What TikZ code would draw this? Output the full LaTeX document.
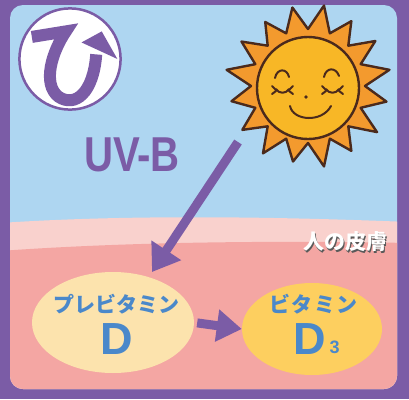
\documentclass[tikz,border=0pt]{standalone}
\usepackage{fontspec}
\setmainfont{Liberation Sans}
\newfontfamily\cjk{Noto Sans CJK JP}
\usepackage{tikz}
\usetikzlibrary{arrows.meta,positioning,shapes.geometric,calc}
\definecolor{Frame}{HTML}{7B5CA6}
\definecolor{Sky}{HTML}{AED6F1}
\definecolor{SkinTop}{HTML}{F9D1CD}
\definecolor{Skin}{HTML}{F4A6A3}
\definecolor{PaleYolk}{HTML}{FCE3AD}
\definecolor{Yolk}{HTML}{FDCF5F}
\definecolor{VitBlue}{HTML}{4A88CA}
\definecolor{Ray}{HTML}{F39A2E}
\definecolor{Face}{HTML}{F8B726}
\definecolor{Brown}{HTML}{4B2A1C}

\begin{document}
\begin{tikzpicture}[x=1pt,y=-1pt,line join=round,
  sunline/.style={draw=Brown,line width=2.4pt},
  faceline/.style={draw=Brown,line width=2pt,line cap=round},
  kata/.style={font=\cjk\bfseries\fontsize{21}{21}\selectfont,text=VitBlue},
  bigd/.style={font=\bfseries\fontsize{45}{45}\selectfont,text=VitBlue},
  blob/.style={ellipse,draw=none,inner sep=0pt},
  uvarrow/.style={draw=Frame,line width=9pt,-{Triangle[length=26pt,width=34pt]}}]
  \useasboundingbox (0,0) rectangle (409,399);
  \fill[Frame] (0,0) rectangle (409,399);

  % sky and skin layers
  \begin{scope}
    \clip[rounded corners=13pt] (10,5) rectangle (397,389);
    \fill[Sky] (0,0) rectangle (409,399);
    \fill[SkinTop] (0,223) .. controls (120,215) and (260,216) .. (409,222) -- (409,399) -- (0,399) -- cycle;
    \fill[Skin] (0,251) .. controls (110,243) and (250,240) .. (409,243) -- (409,399) -- (0,399) -- cycle;
  \end{scope}

  % hi mark
  \begin{scope}[shift={(70,59)},scale=0.92,shift={(-74.5,-63)}]
    \draw[Frame,line width=2.5pt,fill=white] (74.5,63) circle[radius=55];
    \draw[Frame,line width=12pt,line join=miter] (33,39) -- (70,33)
      .. controls (55,55) and (44,90) .. (62,104) .. controls (80,116) and (100,100) .. (103,58);
    \fill[Frame] (109,33) -- (87,45) -- (126,63) -- cycle;
  \end{scope}
  \node[font=\bfseries\fontsize{49}{49}\selectfont,text=Frame] (uvb) at (132,155) {\scalebox{0.82}[1]{UV-B}};

  % sun
  \coordinate (sun) at (308,86);
  \draw[sunline,fill=Ray] ($(sun)+(11.25:80)$)
    \foreach \r [count=\k] in {83,78,82,77,81,79,78,83,80,77,80,82,78,81,83,80}
      { -- ($(sun)+({\k*22.5}:57)$) -- ($(sun)+({\k*22.5+11.25}:\r)$) } -- cycle;
  \draw[sunline,fill=Face] (308,88) circle[radius=51];
  \draw[faceline] (275,78) .. controls (277,68) and (287,68) .. (289,77);
  \draw[faceline] (324,77) .. controls (326,67) and (336,67) .. (339,76);
  \draw[faceline] (276,89) .. controls (279,94) and (286,94) .. (289,89)
    (276,90) -- (272,86) (276,91) -- (272,94) (289,90) -- (293,86) (289,91) -- (293,94);
  \draw[faceline] (326,89) .. controls (329,94) and (336,94) .. (339,89)
    (326,90) -- (322,86) (326,91) -- (322,94) (339,90) -- (343,86) (339,91) -- (343,94);
  \fill[Brown] (306,97) circle[radius=1.9];
  \draw[faceline] (290,106) .. controls (293,121) and (322,123) .. (331,106);

  % skin label
  \node[kata,text=black!65] at (346,243.5) {人の皮膚};
  \node[kata,text=white] (skin) at (345,242) {人の皮膚};

  % previtamin D and vitamin D3
  \node[blob,fill=PaleYolk,minimum width=162pt,minimum height=101pt] (prevd) at (113,322.5) {};
  \node[kata] (prevtxt) at (116,304) {プレビタミン};
  \node[bigd] (prevlet) at (117,339) {D};
  \node[blob,fill=Yolk,minimum width=140pt,minimum height=92pt] (vitd) at (312,329) {};
  \node[kata] (vittxt) at (313.5,304) {ビ\kern1.5ptタ\kern1.5ptミ\kern1.5ptン};
  \node[bigd] (vitlet) at (310,339) {D};
  \node[font=\bfseries\fontsize{18}{18}\selectfont,text=VitBlue,anchor=base west] (vitsub) at (326,353) {3};

  \coordinate (uvfrom) at (238,142);
  \coordinate (uvto) at (152,272);
  \draw[uvarrow] (uvfrom) -- (uvto);
  \draw[uvarrow,-{Triangle[length=25pt,width=31pt]},shorten <=3pt] (prevd.east) -- (vitd.west);
\end{tikzpicture}
\end{document}
